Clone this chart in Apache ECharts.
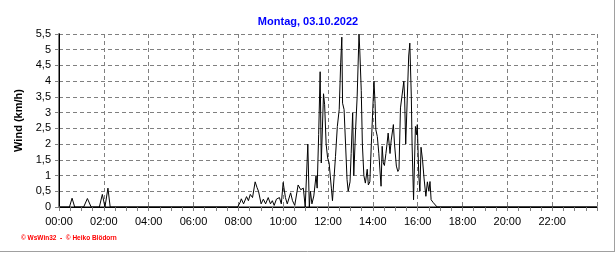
<!DOCTYPE html>
<html>
<head>
<meta charset="utf-8">
<script src="https://cdn.jsdelivr.net/npm/echarts@6/dist/echarts.min.js"></script>
<style>
html,body{margin:0;padding:0;background:#fff;}
#c{width:616px;height:253px;}
</style>
</head>
<body>
<div id="c"></div>
<script>
// Time of day in minutes since 00:00
var times = [0,28,35,42,66,76,86,108,116,123,131,137,478,485,488,494,502,507,512,518,525,530,534,541,547,553,560,566,571,576,582,590,595,600,606,611,620,625,631,640,647,654,659,666,670,673,677,682,688,691,695,699,702,708,711,715,719,723,729,732,736,740,745,750,754,757,759,763,767,771,774,779,782,786,789,794,798,803,805,809,812,816,820,825,828,832,836,843,846,848,852,856,862,865,868,871,875,878,881,886,889,895,898,903,907,910,914,918,923,925,928,932,936,939,943,945,949,954,957,959,963,966,969,973,977,982,986,990,993,996,1001,1006,1012,1440];
// Wind speed in km/h
var wind = [0,0,0.28,0,0,0.27,0,0,0.4,0,0.6,0,0,0.15,0.26,0.1,0.33,0.2,0.4,0.3,0.8,0.62,0.5,0.1,0.25,0.1,0.3,0.1,0.2,0.05,0.25,0.3,0.1,0.78,0.3,0.1,0.45,0.2,0.05,0.7,0.55,0.6,0,2.0,0,0.5,0.1,0.35,1.0,0.6,2.3,4.3,1.4,3.6,3.25,2.0,1.56,1.4,0.6,0.2,0.2,1.6,2.56,3.1,4.58,5.4,3.3,3.1,2.0,0.87,0.5,0.8,1.7,3.0,1.0,2.5,3.5,5.5,5.0,3.7,2.0,1.0,0.76,1.2,0.7,0.8,2.0,4.0,3.3,2.46,2.24,1.71,0.66,1.93,1.4,1.32,1.7,2.0,2.35,1.7,2.1,2.62,2.0,1.3,1.13,1.2,3.15,3.2,4.0,3.5,2.0,3.4,4.8,5.21,3.5,2.0,0.23,2.56,2.3,2.62,1.0,0.5,1.9,1.5,0.92,0.34,0.8,0.5,0.81,0.23,0.15,0.1,0,0];
var titleText = 'Montag, 03.10.2022';
var yName = 'Wind (km/h)';
var footer = '\u00A9 WsWin32  -  \u00A9 Heiko Bl\u00F6dorn';

var data = times.map(function(t,i){ return [t, wind[i]]; });
function hhmm(v){ var h=Math.floor(v/60), m=v%60; return (h<10?'0':'')+h+':'+(m<10?'0':'')+m; }

var chart = echarts.init(document.getElementById('c'), null, {renderer:'canvas'});
var F = '"Liberation Sans", Arial, sans-serif';
chart.setOption({
  animation:false,
  backgroundColor:'#ffffff',
  title:{text:titleText,left:'center',top:11,textStyle:{fontFamily:F,fontSize:11,fontWeight:'bold',color:'#0000ff'}},
  grid:{left:59,right:19,top:34,bottom:46},
  xAxis:[{
    type:'value',min:0,max:1440,interval:120,
    axisLine:{show:true,onZero:false,lineStyle:{color:'#808080',width:2}},
    axisTick:{show:true,length:4,lineStyle:{color:'#808080'}},
    minorTick:{show:true,splitNumber:4,length:4,lineStyle:{color:'#808080'}},
    axisLabel:{fontFamily:F,fontSize:11,color:'#000',margin:9,formatter:function(v){return v>=1440?'':hhmm(v);},showMaxLabel:false},
    splitLine:{show:true,lineStyle:{color:'#808080',type:[4,3],width:1}}
  },{
    type:'value',min:0,max:1440,position:'top',
    axisLine:{show:true,lineStyle:{color:'#000',width:1}},
    axisTick:{show:false},axisLabel:{show:false},splitLine:{show:false}
  }],
  yAxis:[{
    type:'value',min:0,max:5.5,interval:0.5,
    name:yName,nameLocation:'middle',nameGap:24,
    nameTextStyle:{fontFamily:F,fontSize:11,fontWeight:'bold',color:'#000'},
    axisLine:{show:true,lineStyle:{color:'#808080',width:2}},
    axisTick:{show:true,length:4,lineStyle:{color:'#808080'}},
    axisLabel:{fontFamily:F,fontSize:11,color:'#000',margin:8,formatter:function(v){return String(v).replace('.',',');}},
    splitLine:{show:true,lineStyle:{color:'#808080',type:[4,3],width:1}}
  },{
    type:'value',min:0,max:5.5,position:'right',
    axisLine:{show:true,lineStyle:{color:'#000',width:1}},
    axisTick:{show:false},axisLabel:{show:false},splitLine:{show:false}
  }],
  series:[{
    type:'line',data:data,showSymbol:false,symbol:'none',
    lineStyle:{color:'#000',width:1},clip:true,z:5
  }],
  graphic:[
    {type:'text',left:21,top:235,style:{text:footer,font:'bold 6.5px '+F,fill:'#ff0000'}},
    {type:'line',shape:{x1:614.5,y1:0,x2:614.5,y2:251.5},style:{stroke:'#a0a0a0',lineWidth:1}},
    {type:'line',shape:{x1:0,y1:251.5,x2:615,y2:251.5},style:{stroke:'#a0a0a0',lineWidth:1}}
  ]
});
</script>
</body>
</html>
